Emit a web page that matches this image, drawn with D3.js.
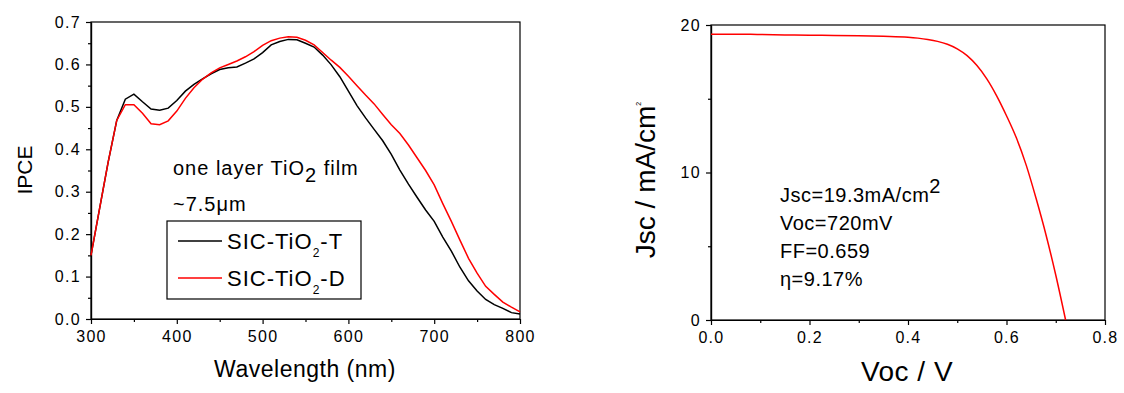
<!DOCTYPE html>
<meta charset="utf-8">
<style>
body { margin: 0; background: #fff; }
svg text { font-family: Arial, "Liberation Sans", sans-serif; fill: #000; }
.tick text { font-size: 16px; letter-spacing: 1.3px; }
.domain, .tick line { stroke: #000; stroke-width: 1.2; }
.frame { fill: none; stroke: #000; stroke-width: 1.2; }
.curve { fill: none; stroke-width: 1.5; }
</style>
<body>
<script src="https://cdn.jsdelivr.net/npm/d3@7/dist/d3.min.js"></script>
<script>

// IPCE spectra (left)
const wavelengths = [300,310,320,330,340,350,360,370,380,390,400,410,420,430,440,450,460,470,480,490,500,
  510,520,530,540,550,560,570,580,590,600,610,620,630,640,650,660,670,680,690,700,
  710,720,730,740,750,760,770,780,790,800];
const ipceT = [0.150,0.26,0.37,0.468,0.518,0.530,0.512,0.495,0.492,0.497,0.515,0.537,0.553,0.566,0.578,0.588,
  0.592,0.594,0.603,0.613,0.628,0.646,0.654,0.659,0.658,0.650,0.641,0.622,0.599,0.571,0.537,0.503,0.474,
  0.447,0.420,0.388,0.351,0.318,0.287,0.257,0.230,0.193,0.160,0.122,0.090,0.066,0.046,0.034,0.025,0.015,0.012];
const ipceD = [0.150,0.26,0.37,0.468,0.505,0.505,0.485,0.460,0.458,0.467,0.490,0.520,0.545,0.565,0.580,0.592,
  0.600,0.608,0.618,0.630,0.645,0.656,0.662,0.665,0.664,0.657,0.646,0.628,0.610,0.593,0.572,0.550,0.528,
  0.507,0.482,0.458,0.437,0.410,0.380,0.350,0.316,0.272,0.230,0.186,0.143,0.108,0.077,0.058,0.040,0.028,0.017];
const seriesNames = ["SIC-TiO|2|-T", "SIC-TiO|2|-D"];
const seriesColors = ["#000000", "#ff0000"];

// J-V curve (right)
const voltage = [0,0.05,0.1,0.15,0.2,0.25,0.3,0.35,0.4,0.42,0.44,0.46,0.48,0.5,0.52,0.54,0.56,0.58,0.6,
  0.62,0.64,0.66,0.68,0.7,0.72];
const current = [19.38,19.37,19.36,19.33,19.31,19.29,19.27,19.23,19.17,19.11,19.02,18.89,18.69,18.38,17.92,
  17.25,16.35,15.2,13.85,12.35,10.5,8.25,5.8,3.05,0];

const leftXTicks = [300,400,500,600,700,800];
const leftYTicks = [0,0.1,0.2,0.3,0.4,0.5,0.6,0.7];
const rightXTicks = [0,0.2,0.4,0.6,0.8];
const rightYTicks = [0,10,20];

const svg = d3.select("body").append("svg")
    .attr("width", 1124)
    .attr("height", 393);

function drawAxes(g, x, y, xTicks, yTicks, xMinor, yMinor, xFmt, yFmt) {
  let [x0, x1] = x.range(), [y0, y1] = y.range();
  g.append("g").attr("transform", "translate(0," + y0 + ")")
      .call(d3.axisBottom(x).tickValues(xMinor).tickSize(3).tickSizeOuter(0).tickFormat(""));
  g.append("g").attr("transform", "translate(" + x0 + ",0)")
      .call(d3.axisLeft(y).tickValues(yMinor).tickSize(3).tickSizeOuter(0).tickFormat(""));
  g.append("g").attr("transform", "translate(0," + y0 + ")")
      .call(d3.axisBottom(x).tickValues(xTicks).tickSize(5).tickSizeOuter(0).tickPadding(7).tickFormat(xFmt));
  g.append("g").attr("transform", "translate(" + x0 + ",0)")
      .call(d3.axisLeft(y).tickValues(yTicks).tickSize(5).tickSizeOuter(0).tickPadding(5).tickFormat(yFmt));
  g.append("rect").attr("class", "frame")
      .attr("x", x0).attr("y", y1).attr("width", x1 - x0).attr("height", y0 - y1);
  g.selectAll(".tick text").attr("fill", "#000");
}

// ---- left panel
let xL = d3.scaleLinear().domain([300, 800]).range([91, 520]);
let yL = d3.scaleLinear().domain([0, 0.7]).range([319, 22]);
let gL = svg.append("g");
drawAxes(gL, xL, yL, leftXTicks, leftYTicks,
  d3.range(350, 800, 100), d3.range(0.05, 0.7, 0.1),
  d3.format("d"), d3.format(".1f"));

let lineL = d3.line().x((d, i) => xL(wavelengths[i])).y(d => yL(d));
[ipceT, ipceD].forEach((s, k) => {
  gL.append("path").attr("class", "curve")
      .attr("stroke", seriesColors[k])
      .attr("d", lineL(s));
});

gL.append("text").attr("transform", "translate(32,170) rotate(-90)")
    .attr("text-anchor", "middle").style("font-size", "21px").text("IPCE");
gL.append("text").attr("x", 305).attr("y", 377)
    .attr("text-anchor", "middle").style("font-size", "23px").style("letter-spacing", "0.5px")
    .text("Wavelength (nm)");

let note = gL.append("text").attr("x", 173).attr("y", 175)
    .style("font-size", "20px").style("letter-spacing", "1px");
note.append("tspan").text("one layer TiO");
note.append("tspan").attr("dy", 7).text("2");
note.append("tspan").attr("dy", -7).text(" film");
gL.append("text").attr("x", 173).attr("y", 211)
    .style("font-size", "20px").style("letter-spacing", "1px").text("~7.5μm");

// legend
let leg = gL.append("g");
leg.append("rect").attr("class", "frame").attr("x", 167).attr("y", 221).attr("width", 194).attr("height", 78);
seriesNames.forEach((name, k) => {
  let ly = 241 + k * 37;
  leg.append("line").attr("x1", 178).attr("x2", 222).attr("y1", ly).attr("y2", ly)
      .attr("stroke", seriesColors[k]).attr("stroke-width", 1.5);
  let parts = name.split("|");
  let t = leg.append("text").attr("x", 227).attr("y", ly + 8)
      .style("font-size", "22px").style("letter-spacing", "1px");
  t.append("tspan").text(parts[0]);
  t.append("tspan").attr("dy", 8).style("font-size", "12px").text(parts[1]);
  t.append("tspan").attr("dy", -8).text(parts[2]);
});

// ---- right panel
let xR = d3.scaleLinear().domain([0, 0.8]).range([711, 1105]);
let yR = d3.scaleLinear().domain([0, 20]).range([320, 25]);
let gR = svg.append("g");
drawAxes(gR, xR, yR, rightXTicks, rightYTicks,
  [0.1, 0.3, 0.5, 0.7], [5, 15],
  d3.format(".1f"), d3.format("d"));

gR.append("path").attr("class", "curve")
    .attr("stroke", "#ff0000")
    .attr("d", d3.line().curve(d3.curveMonotoneX)
      .x((d, i) => xR(voltage[i])).y(d => yR(d))(current));

let jl = gR.append("text").attr("transform", "translate(655,180) rotate(-90)")
    .attr("text-anchor", "middle").style("font-size", "28px");
jl.append("tspan").text("Jsc / mA/cm");
jl.append("tspan").attr("dy", -14).style("font-size", "7px").text("2");
gR.append("text").attr("x", 907).attr("y", 381)
    .attr("text-anchor", "middle").style("font-size", "28px").style("letter-spacing", "0.5px")
    .text("Voc / V");

let stats = gR.append("g").style("font-size", "20px").style("letter-spacing", "0.5px");
let s1 = stats.append("text").attr("x", 780).attr("y", 202);
s1.append("tspan").text("Jsc=19.3mA/cm");
s1.append("tspan").attr("dy", -9).text("2");
stats.append("text").attr("x", 780).attr("y", 230).text("Voc=720mV");
stats.append("text").attr("x", 780).attr("y", 258).text("FF=0.659");
stats.append("text").attr("x", 780).attr("y", 286).text("η=9.17%");

</script>
